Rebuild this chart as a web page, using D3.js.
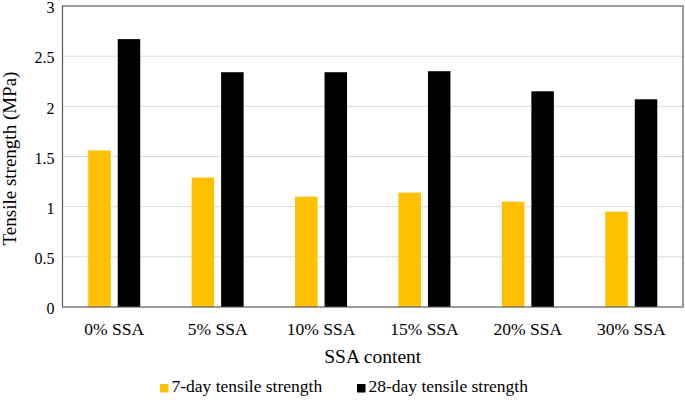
<!DOCTYPE html>
<html><head><meta charset="utf-8">
<script src="https://cdn.jsdelivr.net/npm/d3@7"></script>
<style>body{margin:0;background:#fff}svg{display:block}text{font-family:"Liberation Serif","Tinos","Times New Roman","DejaVu Serif",serif;fill:#000}</style>
</head><body>
<svg id="chart" width="685" height="400"></svg>
<script>
const categories = ["0% SSA","5% SSA","10% SSA","15% SSA","20% SSA","30% SSA"];
const seriesNames = ["7-day tensile strength","28-day tensile strength"];
const day7 = [1.56,1.29,1.10,1.14,1.05,0.95];
const day28 = [2.67,2.34,2.34,2.35,2.15,2.07];
const yTicks = [0,0.5,1,1.5,2,2.5,3];
const colors = ["#FFC000","#000000"];
const FONT = '"Liberation Serif","Tinos","Times New Roman","DejaVu Serif",serif';

const svg = d3.select("#chart");
const L=62.5, R=683, T=6, B=307;
const x = d3.scaleBand().domain(categories).range([L,R]).padding(0);
const y = d3.scaleLinear().domain([0,3]).range([B,T]);
const bw = 22.5, gap = 7;
const sub = d3.scaleBand().domain([0,1]).range([-(bw+gap/2)-gap/2, bw+gap/2+gap/2]).paddingInner(gap/(bw+gap)).paddingOuter(gap/2/(bw+gap));

svg.append("g").selectAll("line").data(yTicks.filter(d=>d>0&&d<3)).join("line")
  .attr("x1",L).attr("x2",R).attr("y1",d=>y(d)).attr("y2",d=>y(d))
  .attr("stroke","#d9d9d9").attr("stroke-width",1);

const data = categories.map((c,i)=>({c, vals:[day7[i],day28[i]]}));
const g = svg.append("g");
data.forEach(d=>{
  const cx = x(d.c)+x.bandwidth()/2;
  d.vals.forEach((v,k)=>{
    g.append("rect")
      .attr("x", cx + sub(k)).attr("width", sub.bandwidth())
      .attr("y", y(v)).attr("height", y(0)-y(v))
      .attr("fill", colors[k]);
  });
});

svg.append("rect").attr("x",L).attr("y",T).attr("width",R-L).attr("height",B-T)
  .attr("fill","none").attr("stroke","#595959").attr("stroke-width",1.2);

const yAxis = d3.axisLeft(y).tickValues(yTicks).tickSize(0).tickPadding(8).tickFormat(d3.format("~g"));
const ya = svg.append("g").attr("transform",`translate(${L},0)`).call(yAxis).attr("font-family",FONT);
ya.select(".domain").remove();
ya.selectAll("text").attr("dy","0.42em").style("font-size","16px").style("font-family",FONT);

const xAxis = d3.axisBottom(x).tickSize(0).tickPadding(16);
const xa = svg.append("g").attr("transform",`translate(0,${B})`).call(xAxis).attr("font-family",FONT);
xa.select(".domain").remove();
xa.selectAll("text").style("font-size","17.5px").style("font-family",FONT);

svg.append("text").attr("x",(L+R)/2).attr("y",363).attr("text-anchor","middle")
  .style("font-size","19.5px").style("font-family",FONT).text("SSA content");
svg.append("text").attr("transform",`translate(16,${(T+B)/2+2}) rotate(-90)`).attr("text-anchor","middle")
  .style("font-size","19px").style("font-family",FONT).text("Tensile strength (MPa)");

const legX = [160, 357];
seriesNames.forEach((n,k)=>{
  svg.append("rect").attr("x",legX[k]).attr("y",384).attr("width",8.5).attr("height",8.5).attr("fill",colors[k]);
  svg.append("text").attr("x",legX[k]+11.5).attr("y",392).style("font-size","17.5px").style("font-family",FONT).text(n);
});
</script>
</body></html>
